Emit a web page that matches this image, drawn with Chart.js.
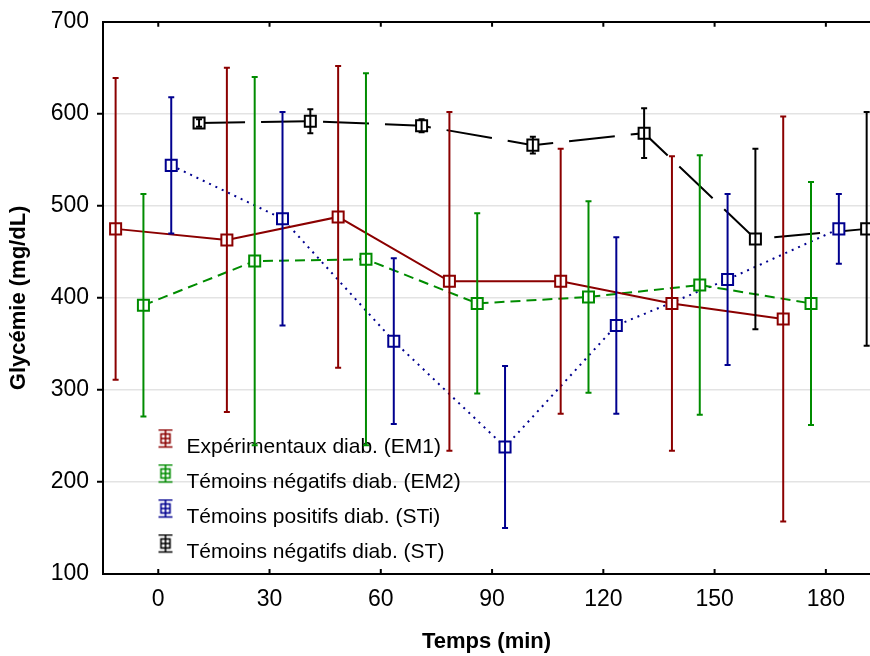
<!DOCTYPE html>
<html>
<head>
<meta charset="utf-8">
<script src="https://cdn.jsdelivr.net/npm/chart.js@4.4.1/dist/chart.umd.min.js"></script>
<style>
  html, body { margin: 0; padding: 0; background: #fff; }
  #wrap { width: 870px; height: 656px; position: relative; }
</style>
</head>
<body>
<div id="wrap"><canvas id="glyChart"></canvas></div>
<script>
// sampling times (min) and x dodge of each group around them
const times = [0, 30, 60, 90, 120, 150, 180];
const dodge = [-11.5, -4, 3.5, 11];

const labels = [
  'Expérimentaux diab. (EM1)',
  'Témoins négatifs diab. (EM2)',
  'Témoins positifs diab. (STi)',
  'Témoins négatifs diab. (ST)'
];

// glycemia means and deviations (mg/dL)
const em1Mean = [475, 463, 488, 418, 418, 394, 377];
const em1Sd   = [164, 187, 164, 184, 144, 160, 220];
const em2Mean = [392, 440, 442, 394, 401, 414, 394];
const em2Sd   = [121, 200, 202, 98, 104, 141, 132];
const stiMean = [544, 486, 353, 238, 370, 420, 475];
const stiSd   = [74, 116, 90, 88, 96, 93, 38];
const stMean  = [590, 592, 587, 566, 579, 464, 475];
const stSd    = [4, 13, 7, 9, 27, 98, 127];

const yTicks = [100, 200, 300, 400, 500, 600, 700];

const colors = ['#8b0000', '#008c00', '#00008f', '#000000'];
const dashes = [[], [10, 6], [2, 5], [46, 16]];
const means = [em1Mean, em2Mean, stiMean, stMean];
const sds = [em1Sd, em2Sd, stiSd, stSd];

const FONT = '"Liberation Sans", Arial, sans-serif';

// legend symbol: error bar with square, drawn above the text middle
function legendIcon(color) {
  const c = document.createElement('canvas');
  c.width = 16; c.height = 38;
  const g = c.getContext('2d');
  g.strokeStyle = color;
  g.lineWidth = 1.6;
  g.beginPath();
  g.moveTo(1, 1.5); g.lineTo(15, 1.5);
  g.moveTo(1, 18.5); g.lineTo(15, 18.5);
  g.moveTo(8, 1.5); g.lineTo(8, 18.5);
  g.moveTo(3.5, 10); g.lineTo(12.5, 10);
  g.stroke();
  g.strokeRect(3.5, 5.5, 9, 9);
  return c;
}
const icons = colors.map(legendIcon);

const datasets = labels.map((name, k) => ({
  label: name,
  data: times.map((t, j) => ({ x: t + dodge[k], y: means[k][j] })),
  means: means[k],
  sds: sds[k],
  showLine: true,
  borderColor: colors[k],
  backgroundColor: colors[k],
  borderWidth: 2,
  borderDash: dashes[k],
  pointStyle: 'rect',
  pointRadius: 7.8,
  pointBorderWidth: 2,
  pointBorderColor: colors[k],
  pointBackgroundColor: '#fff',
  fill: false,
  tension: 0
}));

// vertical error bars, drawn from the y scale
const errorBars = {
  id: 'errorBars',
  afterDatasetsDraw(chart) {
    const ctx = chart.ctx;
    const y = chart.scales.y;
    const a = chart.chartArea;
    ctx.save();
    ctx.beginPath();
    ctx.rect(a.left, a.top, a.width + 10, a.height);
    ctx.clip();
    chart.data.datasets.forEach((ds, i) => {
      const meta = chart.getDatasetMeta(i);
      ctx.strokeStyle = ds.borderColor;
      ctx.lineWidth = 2;
      meta.data.forEach((pt, j) => {
        const top = y.getPixelForValue(ds.means[j] + ds.sds[j]);
        const bot = y.getPixelForValue(ds.means[j] - ds.sds[j]);
        ctx.beginPath();
        ctx.moveTo(pt.x, top); ctx.lineTo(pt.x, bot);
        ctx.moveTo(pt.x - 3, top); ctx.lineTo(pt.x + 3, top);
        ctx.moveTo(pt.x - 3, bot); ctx.lineTo(pt.x + 3, bot);
        ctx.stroke();
      });
    });
    ctx.restore();
  }
};

// small inward tick marks on bottom and top axes
const innerTicks = {
  id: 'innerTicks',
  afterDraw(chart) {
    const { ctx, chartArea: a } = chart;
    const x = chart.scales.x;
    ctx.save();
    ctx.strokeStyle = '#000';
    ctx.lineWidth = 2;
    x.ticks.forEach(t => {
      const px = x.getPixelForValue(t.value);
      ctx.beginPath();
      ctx.moveTo(px, a.bottom); ctx.lineTo(px, a.bottom - 5);
      ctx.moveTo(px, a.top); ctx.lineTo(px, a.top + 5);
      ctx.stroke();
    });
    ctx.restore();
  }
};

// put the legend in the lower left of the plot
const legendSpot = {
  id: 'legendSpot',
  afterLayout(chart) {
    const lg = chart.legend, a = chart.chartArea;
    lg.left = a.left + 38;
    lg.top = a.top;
    lg.bottom = a.bottom + 3;
  }
};

const edgeHidden = c => (c.tick && (c.tick.value === 100 || c.tick.value === 700)) ? 'rgba(0,0,0,0)' : null;

new Chart(document.getElementById('glyChart').getContext('2d'), {
  type: 'scatter',
  data: { datasets: datasets },
  plugins: [errorBars, innerTicks, legendSpot],
  options: {
    responsive: true,
    maintainAspectRatio: false,
    animation: false,
    layout: { autoPadding: false, padding: { top: 21, right: 0, bottom: 0, left: 0 } },
    plugins: {
      tooltip: { enabled: false },
      legend: {
        display: true,
        position: 'chartArea',
        align: 'end',
        labels: {
          usePointStyle: true,
          color: '#000',
          padding: 14,
          font: { family: FONT, size: 21 },
          generateLabels(chart) {
            return Chart.defaults.plugins.legend.labels.generateLabels(chart)
              .map((it, i) => Object.assign(it, { pointStyle: icons[i] }));
          }
        }
      }
    },
    scales: {
      x: {
        type: 'linear',
        position: 'bottom',
        min: -14.9,
        max: 191.9,
        border: { display: true, color: '#000', width: 2 },
        grid: { display: false, drawTicks: false },
        ticks: {
          stepSize: 30,
          includeBounds: false,
          maxRotation: 0,
          color: '#000',
          padding: 12,
          font: { family: FONT, size: 23 }
        },
        title: {
          display: true,
          text: 'Temps (min)',
          color: '#000',
          font: { family: FONT, size: 22, weight: 'bold' },
          padding: { top: 0, bottom: 1 }
        },
        afterFit(s) { s.height = 82; s.paddingLeft = 0; s.paddingRight = 0; }
      },
      x2: {
        type: 'linear',
        position: 'top',
        min: -14.9,
        max: 191.9,
        border: { display: true, color: '#000', width: 2 },
        grid: { display: false, drawTicks: false },
        ticks: { display: false },
        afterFit(s) { s.height = 0; s.paddingLeft = 0; s.paddingRight = 0; }
      },
      y: {
        type: 'linear',
        min: yTicks[0],
        max: yTicks[yTicks.length - 1],
        border: { display: true, color: '#000', width: 2 },
        grid: {
          color: c => edgeHidden(c) || '#e3e3e3',
          lineWidth: 1.5,
          tickColor: c => edgeHidden(c) || '#000',
          tickLength: 6,
          tickWidth: 2
        },
        ticks: {
          stepSize: 100,
          color: '#000',
          padding: 8,
          font: { family: FONT, size: 23 }
        },
        title: {
          display: true,
          text: 'Glycémie (mg/dL)',
          color: '#000',
          font: { family: FONT, size: 22, weight: 'bold' },
          padding: { top: 6, bottom: 0 }
        },
        afterFit(s) { s.width = 103; }
      }
    }
  }
});
</script>
</body>
</html>
